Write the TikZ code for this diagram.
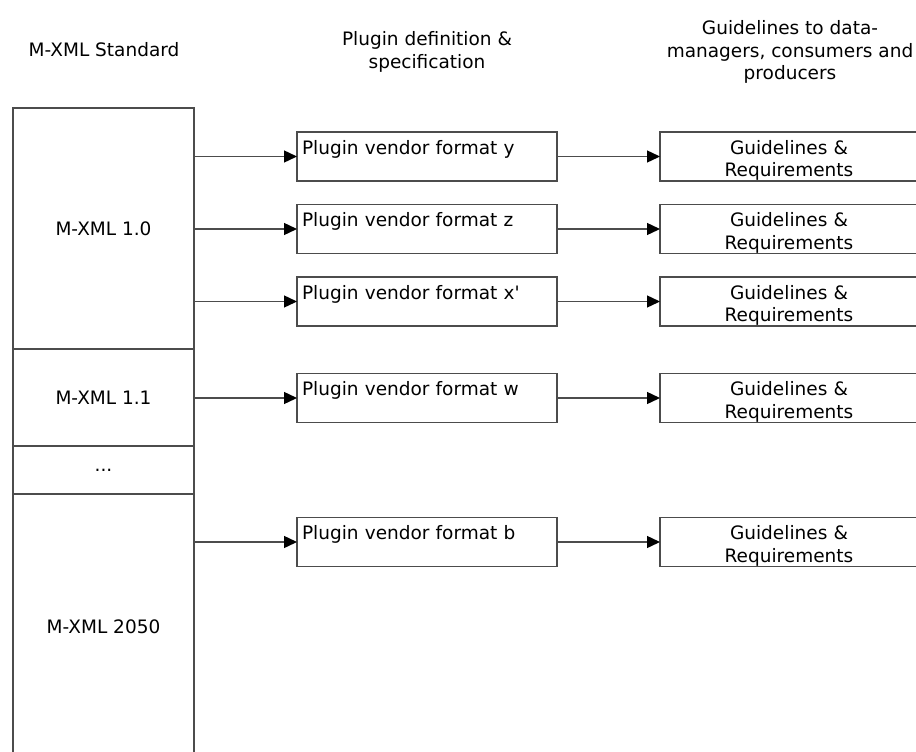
\documentclass[tikz,border=0pt]{standalone}
\usepackage{fontspec}
\setmainfont{DejaVu Sans}
\usepackage{tikz}
\usetikzlibrary{positioning, arrows.meta}

\begin{document}
\begin{tikzpicture}[
  x=1pt, y=-1pt,
  every node/.style={font=\fontsize{18.5pt}{22.5pt}\selectfont},
  std/.style={rectangle, draw=black!70, line width=1.4pt, outer sep=0pt, minimum width=181pt},
  plug/.style={rectangle, draw=black!70, line width=1.4pt, outer sep=0pt, text width=250pt, align=left,
    inner xsep=5pt, inner ysep=8pt, text height=14pt, text depth=19pt},
  guide/.style={rectangle, draw=black!70, line width=1.4pt, outer sep=0pt, text width=248pt, align=center,
    inner xsep=5pt, inner ysep=4pt, text height=18pt, text depth=23pt},
  head/.style={align=center},
  link/.style={-{Triangle[length=13pt, width=12pt, color=black]}, draw=black!70, line width=1.4pt}
]
\useasboundingbox (0,0) rectangle (916,752);

% column headings
\node[head] (hStd) at (104,50) {M-XML Standard};
\node[head] (hPlug) at (427,52) {Plugin definition \&\\specification};
\node[head] (hGuide) at (790,52) {Guidelines to data-\\managers, consumers and\\producers};

% standard versions
\node[std, minimum height=241pt] (std10) at (103.5,228.5) {M-XML 1.0};
\node[std, minimum height=97pt, below=0pt of std10] (std11) {M-XML 1.1};
\node[std, minimum height=48pt, below=0pt of std11] (stdDots) {...};
\node[std, minimum height=266pt, below=0pt of stdDots] (std2050) {M-XML 2050};

% plugins
\node[plug] (plugY) at (427,156.5) {Plugin vendor format y};
\node[plug] (plugZ) at (427,229) {Plugin vendor format z};
\node[plug] (plugX) at (427,301.5) {Plugin vendor format x\textquotesingle};
\node[plug] (plugW) at (427,398) {Plugin vendor format w};
\node[plug] (plugB) at (427,542) {Plugin vendor format b};

% guidelines
\node[guide, right=103pt of plugY] (guideY) {Guidelines \&\\Requirements};
\node[guide, right=103pt of plugZ] (guideZ) {Guidelines \&\\Requirements};
\node[guide, right=103pt of plugX] (guideX) {Guidelines \&\\Requirements};
\node[guide, right=103pt of plugW] (guideW) {Guidelines \&\\Requirements};
\node[guide, right=103pt of plugB] (guideB) {Guidelines \&\\Requirements};

\draw[link] (plugY.west -| std10.east) -- (plugY.west);
\draw[link] (plugZ.west -| std10.east) -- (plugZ.west);
\draw[link] (plugX.west -| std10.east) -- (plugX.west);
\draw[link] (plugW.west -| std11.east) -- (plugW.west);
\draw[link] (plugB.west -| std2050.east) -- (plugB.west);

\foreach \f in {Y,Z,X,W,B}
  \draw[link] (plug\f.east) -- (guide\f.west);
\end{tikzpicture}
\end{document}
